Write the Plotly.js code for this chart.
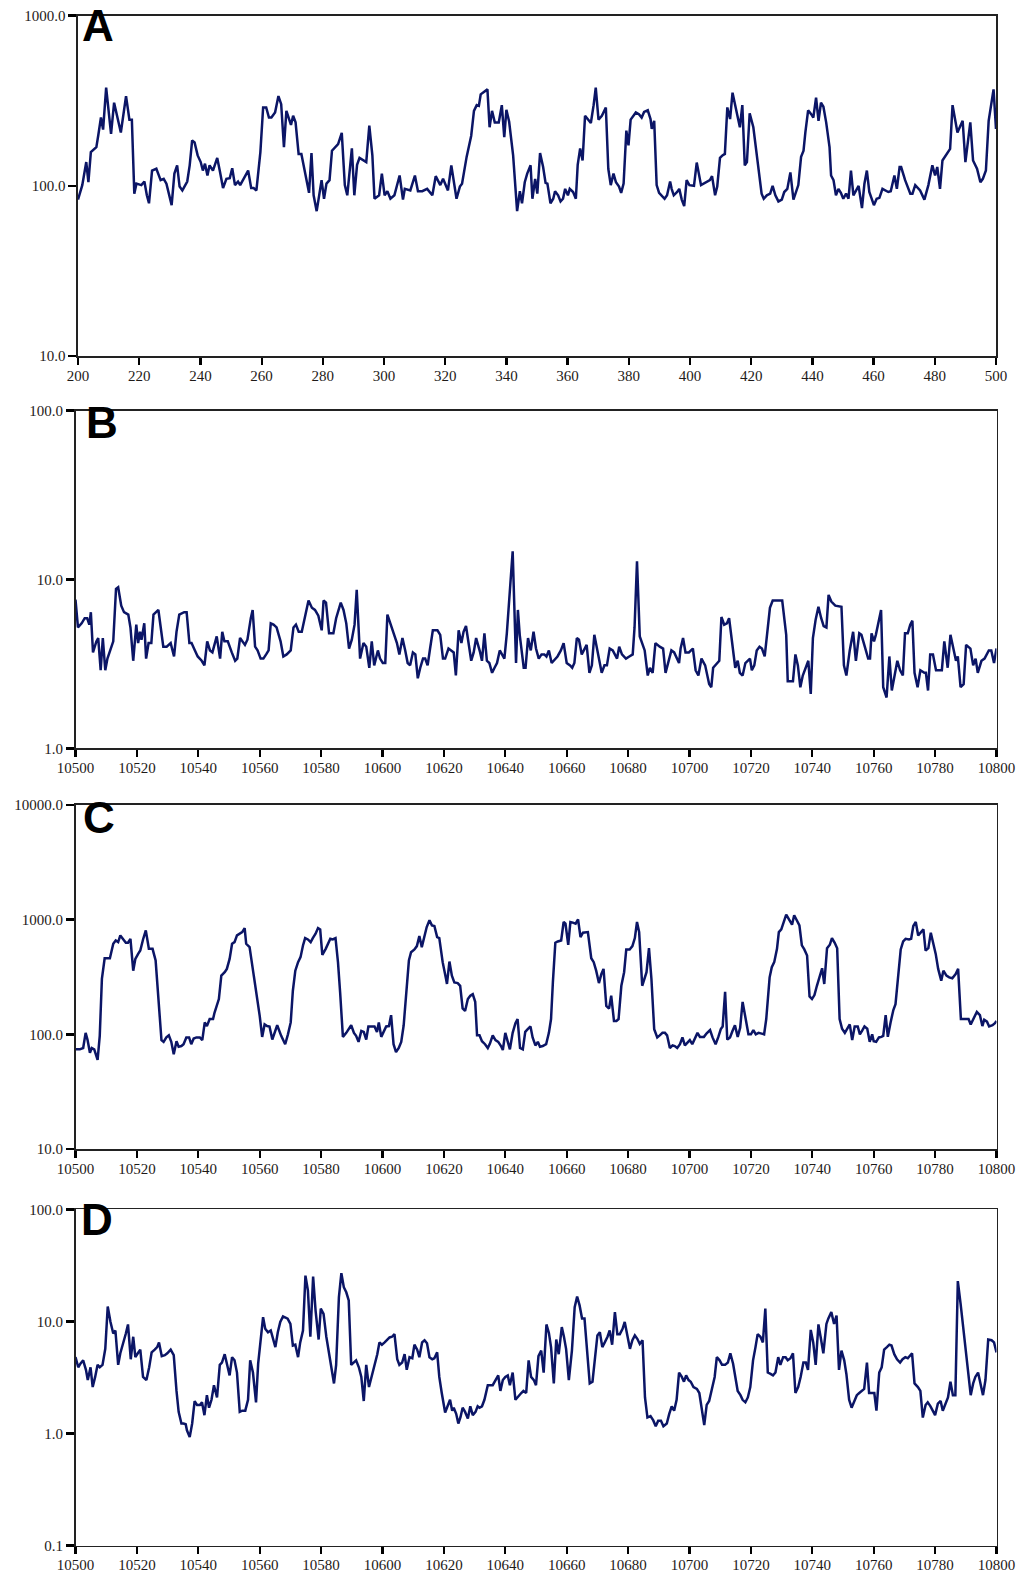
<!DOCTYPE html>
<html>
<head>
<meta charset="utf-8">
<script src="https://cdn.plot.ly/plotly-3.0.1.min.js"></script>
<style>html,body{margin:0;padding:0;background:#fff;}#chart{width:1024px;height:1579px;}</style>
</head>
<body>
<div id="chart"></div>
<script>
// ---------------- DATA ----------------
const panelLabels = ["A", "B", "C", "D"];

const aTickVals = [200, 220, 240, 260, 280, 300, 320, 340, 360, 380, 400, 420, 440, 460, 480, 500];
const bcdTickVals = [10500, 10520, 10540, 10560, 10580, 10600, 10620, 10640, 10660, 10680, 10700, 10720, 10740, 10760, 10780, 10800];
const aYTicks = [10, 100, 1000];
const aYText = ["10.0", "100.0", "1000.0"];
const bYTicks = [1, 10, 100];
const bYText = ["1.0", "10.0", "100.0"];
const cYTicks = [10, 100, 1000, 10000];
const cYText = ["10.0", "100.0", "1000.0", "10000.0"];
const dYTicks = [0.1, 1, 10, 100];
const dYText = ["0.1", "1.0", "10.0", "100.0"];

const aX = [200,201.4,202.7,203.4,204.2,206,206.6,207.5,208.2,209.2,210.8,211.8,214,215.7,216.8,217.6,218.4,219.1,220.7,221.7,
222.5,223.2,224.2,225.6,227,228,228.9,230.6,231.5,232.4,233.2,234.1,235.7,236.5,237.3,238.1,239.1,240.1,240.8,241.5,
242.3,243,244.1,245.5,246.4,247.4,248.5,249.6,250.4,251.3,252.3,253,255.6,256.6,257.4,258.3,259.6,260.5,261.5,262.4,
263.2,264.4,265.5,266.4,267.3,268.1,269.6,270.3,271.1,272.1,273,274.6,275.5,276.3,277,278,279.6,280.4,281.2,282.2,
283,285,286.2,287.2,288,289.5,290.3,291.2,292,294.2,295.2,296.2,296.9,298.4,299.3,300.2,301.1,302.1,303.4,305.1,
306.2,306.8,308.6,310.1,311.1,312.5,314.1,315.8,316.9,318.4,319.3,320.9,322,323.7,324.8,325.5,327,328.5,329.4,330.3,
331,331.6,333.8,334.5,335.3,336.2,337.5,338.5,339.3,340,340.9,342.2,343.5,344.4,345.1,346,346.8,347.9,348.5,349.4,
350.1,351,352,352.8,353.4,354.4,355.3,355.9,356.9,357.7,358.5,359.2,360.1,360.7,361.8,362.7,363.3,364.1,364.9,365.7,
366.8,367.6,368.5,369.2,370.1,371.2,372.5,373.3,374.1,375,375.8,376.8,377.5,378.3,379.2,379.9,380.6,381.4,382.3,383.3,
384.2,385,386.2,387.1,387.5,388.3,389.1,389.9,390.8,391.7,392.5,393.5,394,394.7,395.8,396.5,397.3,398.1,398.9,399.8,
401.3,402.2,403.6,404.6,405.4,406.5,407.2,408.2,408.9,409.8,410.6,411.4,412.2,413.1,413.9,414.8,415.6,416.3,417.1,417.9,
418.6,419.5,420.7,421.6,422.7,423.4,424.1,425.1,426.2,427,427.9,428.9,430,430.8,431.8,432.8,433.8,434.6,435.4,436.3,
437.1,437.7,438.6,439.6,440.3,441.2,442,442.8,443.6,444.5,445.6,446.1,446.9,447.7,448.5,449.3,450.1,451,451.8,452.6,
453.4,455.1,456.2,457,457.8,458.6,460.1,461,461.9,462.9,464.8,465.6,466.8,467.6,468.5,469,470.3,472,472.7,473.6,
475.2,476.6,477.9,479.2,480.1,480.8,481.7,482.5,483.4,484.2,485,485.8,487.4,489.1,490,491.6,492.5,493.8,494.9,495.7,
496.7,497.6,499.2,500];
const aY = [83,101,138,105,158,169,197,252,214,378,202,308,206,337,245,245,90,103,101,106,
88,79,123,126,108,110,103,77,118,132,99,94,106,132,185,180,151,138,123,135,
115,132,123,146,121,97,110,111,127,101,106,101,123,97,97,94,158,289,289,252,
252,270,337,302,169,276,228,258,236,154,154,110,91,156,88,71,108,84,103,108,
161,176,205,101,88,166,88,133,146,138,226,151,84,88,118,88,93,84,88,115,
83,96,94,115,93,93,96,88,114,101,110,94,132,84,99,103,148,197,276,298,
295,345,369,221,276,236,236,298,193,280,238,151,71,93,79,105,118,132,84,110,
90,156,129,104,103,79,84,93,88,81,84,96,88,96,92,84,133,166,141,258,
245,234,298,378,245,258,289,126,101,118,105,99,91,103,211,173,245,256,270,264,
252,272,278,247,216,241,101,91,88,84,88,106,96,88,92,96,83,76,108,101,
100,137,101,103,105,108,114,88,99,146,151,154,289,247,353,295,258,221,298,132,
138,267,221,165,108,90,84,88,90,100,88,81,83,92,96,120,83,92,101,148,
161,206,278,264,252,330,241,308,292,236,169,115,108,88,96,91,84,90,84,123,
88,100,74,103,123,92,77,84,85,96,92,93,115,96,129,129,108,90,90,101,
94,83,101,132,115,129,96,141,150,158,165,298,206,241,138,236,141,126,105,110,
123,241,369,216];

const bX = [10500,10500.8,10502,10503,10503.8,10504.5,10505,10505.7,10506.8,10507.4,
10508.2,10508.9,10509.7,10510.4,10512.3,10513.2,10513.9,10514.9,10515.8,10517.2,
10517.9,10518.8,10519.8,10520.4,10521,10521.5,10522.4,10523,10523.8,10524.7,
10525.4,10527,10528.6,10529.7,10531,10532.1,10532.9,10533.8,10535.4,10536.2,
10537.1,10537.8,10538.9,10539.8,10541.1,10542,10542.9,10543.8,10544.6,10546,
10547.1,10547.8,10548.5,10549.6,10550.9,10552,10552.7,10553.6,10555.2,10556,
10557.1,10557.7,10558.5,10559.3,10560.3,10561.2,10562.1,10562.9,10563.6,10564.5,
10565.5,10566.8,10567.7,10568.8,10570.1,10571,10571.8,10572.7,10573.7,10574.5,
10575,10575.9,10577,10578,10579.1,10580.2,10580.8,10581.6,10582.6,10584,
10584.9,10586.4,10587.3,10588.2,10589.1,10590,10590.9,10591.6,10592.7,10593.8,
10594.7,10595.7,10596.5,10597.3,10598.5,10599.2,10600.1,10600.9,10601.6,10602.7,
10603.6,10604.7,10605.5,10606.5,10607.4,10608.2,10609,10609.9,10610.7,10611.5,
10612.3,10613.2,10613.9,10614.7,10615.5,10616.4,10617.9,10618.8,10619.7,10620.4,
10621.5,10623.2,10623.9,10624.8,10625.7,10626.4,10627.2,10628,10628.9,10629.7,
10630.5,10631.8,10632.4,10633.2,10634,10634.8,10635.7,10636.5,10637.3,10638.2,
10638.9,10639.7,10640.5,
10641.4,10642.4,10643.5,10644.1,10644.7,10645.5,10646,10646.6,10647.4,10648.3,
10649.2,10650,10650.9,10651.8,10652.7,10653.4,10654.2,10655.1,10656.2,10657,
10658.1,10659,10660,10661.1,10661.8,10662.5,10663.3,10664,10664.9,10665.8,
10666.5,10667.4,10668.2,10669,10670.3,10671.4,10672.3,10673.1,10674,10675,
10676.4,10677.1,10678,10679.3,10680.4,10681.5,10682.1,10682.9,10683.8,10684.5,
10685.4,10686.4,10687.1,10688,10688.9,10690.3,10691.4,10692.2,10693.3,10694.1,
10695,10696,10696.6,10697.1,10697.9,10698.7,10699.8,10701.1,10702,10702.9,
10703.9,10705.1,10706.4,10707.1,10707.7,10709.7,10710.4,10711.3,10712.2,10712.9,
10714.9,10715.7,10716.4,10717.3,10718.2,10719.7,10720.3,10721.1,10721.9,10722.8,
10723.6,10724.5,10725.5,10726.2,10727.1,10730.2,10731.5,10732,10733.7,10734.5,
10735.3,10736.1,10736.9,10738,10738.7,10739.5,10740.2,10741.1,10742,10742.9,
10743.7,10744.6,10745.3,10746.2,10747.5,10749.5,10750.3,10751.1,10752.2,10753.3,
10754.2,10755.3,10756,10757.1,10758.2,10758.8,10759.3,10760.1,10760.7,10762.4,
10763.1,10764.2,10765.1,10765.9,10767,10767.7,10768.6,10769.5,10770.2,10771.1,
10771.9,10772.6,10773.3,10774.3,10775.2,10776.5,10777,10777.7,10778.4,10779.3,
10780.3,10782.2,10783,10784.1,10785,10786.1,10786.8,10787.4,10788.3,10789.3,
10790.1,10791.5,10792.4,10793.2,10793.9,10795.1,10796.1,10797.5,10798.3,10799.2,
10800];
const bY = [7.6,5.2,5.5,5.9,5.9,5.4,6.4,3.7,4.3,4.5,
2.9,4.5,2.9,3.4,4.3,8.8,9.0,7.0,6.4,6.2,
5.2,3.3,5.4,4.2,4.9,4.4,5.5,3.4,4.2,4.2,
6.2,6.6,4.0,4.0,4.2,3.5,4.9,6.2,6.4,6.4,
4.2,4.2,3.8,3.5,3.3,3.1,4.3,3.8,3.7,4.6,
3.4,4.9,4.3,4.3,3.7,3.3,3.4,4.5,4.1,4.4,
5.9,6.6,4.0,3.8,3.4,3.4,3.6,3.8,5.5,5.4,
5.2,4.3,3.5,3.6,3.8,5.2,5.4,4.9,4.9,5.8,
6.2,7.5,6.8,6.6,6.1,5.0,7.5,7.3,4.8,4.8,
5.9,7.3,6.6,5.5,3.9,4.4,5.4,8.7,3.4,4.2,
4.0,3.0,4.3,3.1,3.8,3.4,3.2,3.2,6.2,5.4,
4.9,4.2,3.6,4.5,3.8,3.2,3.1,3.7,3.6,2.6,
3.0,3.4,3.4,3.1,3.9,5.0,5.0,4.7,3.4,3.4,
3.9,3.7,2.7,5.0,4.2,4.9,5.3,4.2,3.3,3.7,
4.5,3.7,3.3,4.8,3.3,3.2,2.8,3.0,3.2,3.8,
3.6,3.4,4.8,
8.1,14.7,3.2,6.6,4.7,3.4,3.0,3.0,4.5,3.8,
4.9,3.9,3.4,3.6,3.6,3.5,3.8,3.2,3.4,3.5,
3.8,4.2,3.2,3.1,3.0,3.2,4.5,4.4,3.6,3.9,
4.1,2.8,3.1,4.7,3.6,2.8,3.1,3.1,3.9,3.8,
3.4,4.0,3.6,3.4,3.5,3.6,5.2,12.8,4.6,4.2,
3.8,2.7,3.0,2.8,4.2,4.0,3.9,2.8,3.3,3.8,
3.7,3.4,3.2,3.9,4.5,3.7,3.7,3.9,2.9,2.7,
3.4,3.1,2.4,2.3,3.0,3.3,6.0,5.4,5.5,5.9,
3.0,3.3,2.8,2.7,3.2,3.4,2.9,3.1,3.8,4.0,
3.9,3.5,5.2,6.8,7.5,7.5,4.7,2.5,2.5,3.6,
3.1,2.3,2.7,3.1,3.3,2.1,4.5,5.8,6.9,5.9,
5.3,5.2,8.1,7.4,7.0,6.9,3.1,2.7,3.8,4.9,
3.3,4.8,4.7,4.0,3.4,3.4,4.8,4.3,4.7,6.6,
2.3,2.0,3.5,2.2,2.8,3.3,2.9,2.7,4.8,4.8,
5.4,5.7,2.8,2.3,2.9,2.8,2.8,2.2,3.6,3.6,
2.9,2.9,4.3,3.0,4.7,3.8,3.3,3.5,2.3,2.4,
4.1,3.9,3.1,3.4,2.8,3.3,3.4,3.8,3.8,3.2,
3.9];

const cX = [10500,10501.4,10502.5,10503.3,10503.9,10504.7,10505.3,10506.1,10507.2,10507.9,
10508.6,10509.5,10511.2,10512.3,10513.1,10513.9,10514.6,10515.5,10516.4,10517.1,
10517.9,10518.8,10519.5,10520.4,10521.1,10522,10522.9,10523.9,10525.1,10526.1,
10527.1,10528,10528.7,10529.6,10530.4,10531.2,10532,10532.9,10533.6,10534.5,
10535.2,10536.1,10537,10537.7,10538.5,10539.4,10540.5,10541.3,10542.1,10542.8,
10543.7,10544.8,10545.3,10546.1,10546.7,10547.5,10548.6,10549.3,10550.2,10551,
10551.8,10552.6,10553.7,10554.3,10555.1,10555.6,10556.7,10557.8,10558.9,10560,
10560.8,10561.6,10562.4,10563.2,10564.1,10564.9,10565.7,10567,10568.3,10569.2,
10570.1,10570.8,10571.6,10572.5,10573.3,10574.1,10574.8,10575.7,10576.6,10577.3,
10578.2,10579,10579.7,10580.4,10581.5,10583,10583.8,10584.7,10585.5,10586.2,
10587.1,10588.2,10589,10589.8,10590.7,10591.4,10592.2,10593.1,10593.9,10594.7,
10595.4,10596.5,10597.4,10598.2,10598.8,10599.6,10600.3,10601.2,10602.1,10602.8,
10603.6,10604.4,10605.3,10606.1,10606.9,10607.7,10608.6,10609.3,10610.4,10611.2,
10612,10612.8,10613.7,10614.4,10615.3,10616.1,10616.9,10617.8,10618.5,10619.6,
10620.7,10621,10621.8,10622.6,10623.4,10624.5,10625.3,10626.1,10626.9,10627.8,
10628.6,10629.4,10630.2,10630.8,10631.6,10632.4,10633.4,10634.3,10635,10635.9,
10636.8,10637.7,10638.6,10639.2,10640,10640.8,10641.5,10642.4,10643.3,10644,
10644.8,10645.7,10646.5,10647.3,10648.2,10648.9,10649.8,10650.6,10651.3,10652.2,
10653.3,10654.2,10654.9,10655.5,10656.3,10657.1,10658.2,10659,10659.6,10660.5,
10661.2,10662,10662.9,10663.7,10664.5,10665.3,10666.1,10666.9,10668,10668.8,
10669.6,10670.5,10671.3,10672,10672.9,10673.8,10674.5,10675.4,10676.2,10676.9,
10677.8,10678.7,10679.4,10680.5,10681.4,10682.2,10682.9,10683.6,10684.6,10685.3,
10686,10686.8,10687.6,10688.5,10689.5,10690.3,10691.2,10692,10692.7,10693.6,
10694.5,10695.2,10696,10696.9,10697.7,10698.5,10699.3,10700.1,10700.9,10701.8,
10702.6,10703.4,10704.7,10705.6,10706.7,10707.5,10708.5,10709.4,10710.2,10710.8,
10711.6,10712.3,10713.2,10714,10714.8,10715.7,10716.5,10717.3,10718.1,10719.2,
10720,10720.8,10721.6,10722.5,10723.2,10724.3,10725,10726.1,10726.8,10727.6,
10728.5,10729.1,10729.9,10730.6,10731.5,10732.6,10733.4,10734.1,10735,10735.8,
10736.6,10737.4,10738.3,10739.1,10739.9,10740.7,10741.5,10742.4,10743.2,10743.9,
10744.8,10745.7,10746.4,10747.3,10748.1,10748.9,10749.7,10750.6,10751.3,10752.2,
10753,10753.8,10754.8,10755.5,10756.2,10757,10757.9,10758.7,10759.5,10760,
10760.8,10761.7,10762.5,10763.1,10763.9,10764.6,10765.5,10766.4,10767.1,10768,
10768.8,10769.6,10770.4,10771.5,10772.2,10772.9,10773.7,10774.5,10775.3,10776.2,
10776.9,10777.8,10778.6,10779.4,10780.2,10781,10782,10782.7,10783.7,10784.6,
10785.6,10786.7,10787.5,10788.4,10789.7,10790.9,10791.6,10792.5,10793.6,10794.6,
10795.4,10796,10796.9,10797.6,10798.7,10799.5,10800];
const cY = [74,74,76,103,90,69,76,74,60,97,
304,461,461,616,659,637,729,681,629,629,
681,359,455,503,538,672,806,557,557,440,
177,89,86,94,98,86,67,87,78,79,
82,94,94,82,92,94,94,89,127,118,
136,136,155,177,203,325,348,372,455,616,
637,729,754,779,845,616,576,372,232,145,
95,122,118,117,90,105,120,97,82,100,
127,240,359,426,471,596,691,672,637,691,
754,845,823,493,557,681,672,691,426,232,
95,103,111,120,103,97,86,107,105,90,
117,117,117,105,127,95,105,117,118,147,
82,70,76,86,120,232,440,520,550,588,
719,576,738,862,987,892,880,705,691,426,
304,275,431,325,284,280,265,168,160,203,
217,224,192,98,98,87,82,76,83,98,
89,86,79,73,103,84,74,103,125,136,
76,74,105,111,117,94,80,86,78,79,
82,103,136,284,629,646,659,954,923,604,
954,942,923,1007,705,769,779,779,461,426,
359,280,336,372,177,168,217,131,131,136,
265,348,550,550,588,691,954,779,265,304,
348,564,304,111,94,98,103,103,98,76,
80,79,76,82,94,80,84,89,82,94,
103,95,95,102,109,94,82,95,111,117,
235,90,94,107,120,95,114,192,145,100,
100,109,100,103,102,100,136,314,385,426,
557,779,823,954,1107,987,904,1092,967,892,
596,550,487,214,203,220,265,325,377,275,
564,604,691,629,564,136,112,103,112,122,
89,117,117,100,107,117,112,86,100,87,
86,94,95,97,147,95,127,163,183,359,
550,646,681,672,681,880,954,729,779,823,
538,564,769,637,503,372,294,359,325,314,
308,336,372,136,136,136,122,136,157,147,
118,134,129,117,120,125,131];

const dX = [10500,10500.9,10501.6,10502.5,10503.4,10504,10504.9,10505.6,10506.4,10507.2,
10507.9,10508.8,10509.7,10510.5,10511.4,10512.3,10513,10513.9,10514.6,10515.5,
10516.4,10517.1,10518,10518.8,10519.5,10520.3,10521.1,10522,10523.1,10524,
10524.8,10525.8,10526.6,10527.2,10528.1,10529.1,10529.9,10531,10532,10532.9,
10533.6,10534.5,10535.2,10535.9,10536.3,10537.2,10538,10538.8,10539.6,10540.5,
10541.2,10542,10542.8,10543.5,10544.3,10545.1,10546.1,10547,10547.7,10548.6,
10549.3,10550.2,10551,10551.8,10552.6,10553.5,10554.3,10555.3,10556.2,10556.9,
10557.8,10558.8,10559.5,10560.4,10561.1,10561.8,10562.7,10563.6,10564.3,10565.1,
10565.9,10566.7,10567.6,10568.3,10569.1,10570,10570.8,10571.6,10572.5,10573.2,
10574.1,10574.9,10575.7,10576.5,10577.4,10578.2,10579.2,10579.9,10580.8,10581.7,
10582.5,10583.3,10584.2,10584.9,10585.8,10586.6,10587.4,10588.2,10589,10589.8,
10590.7,10591.4,10592.3,10593.1,10593.9,10594.7,10595.6,10596.3,10597.4,10598.3,
10599,10599.8,10600.7,10601.5,10602.3,10603.1,10603.9,10604.8,10605.5,10606.4,
10607.2,10607.9,10608.8,10609.7,10610.4,10611.3,10612,10612.9,10613.7,10614.5,
10615.3,10616.2,10616.9,10617.8,10618.5,10619.3,10620.4,10621,10622,10622.7,
10623.2,10624,10624.7,10625.4,10626.1,10626.9,10627.8,10628.6,10629.4,10630.3,
10631,10631.6,10632.4,10633.2,10634.3,10635.9,10637,10637.7,10638.4,10639.2,
10640,10640.8,10641.5,10642.4,10643.3,10644.4,10645.2,10645.9,10646.8,10647.6,
10648.4,10649.3,10650,10650.8,10651.7,10652.5,10653.4,10654.2,10654.9,10655.8,
10656.6,10657.4,10658.4,10659.1,10659.8,10660.7,10661.7,10662.6,10663.4,10664.2,
10665,10665.8,10666.6,10667.5,10668.4,10669.1,10670,10670.8,10671.6,10672.4,
10673.3,10674,10674.8,10675.7,10676.5,10677.3,10678.2,10678.9,10679.7,10680.6,
10681.4,10682.2,10683,10683.8,10684.7,10685.5,10686.3,10687.3,10688.2,10689,
10689.8,10690.7,10691.5,10692.6,10693.4,10694.2,10695,10695.8,10696.6,10697.5,
10698.2,10698.9,10699.7,10700.4,10701.3,10702.4,10703.2,10704,10704.8,10705.6,
10706.4,10707.3,10708.2,10708.9,10709.8,10710.6,10711.6,10712.5,10713.3,10714.2,
10714.9,10715.7,10716.6,10717.3,10718.2,10719,10719.8,10720.7,10721.5,10722.2,
10723.1,10723.9,10724.7,10725.5,10726.4,10727.2,10728,10728.9,10729.6,10730.5,
10731.3,10732,10732.9,10733.7,10734.5,10735.4,10736.2,10737.1,10737.9,10738.6,
10739.5,10740.3,10741.1,10742,10742.7,10743.6,10744.6,10745.2,10746.2,10747.1,
10747.9,10748.7,10749.5,10750.4,10751.1,10752,10752.8,10753.6,10754.5,10755.3,
10756.1,10756.9,10757.8,10758.5,10759.3,10760.2,10760.9,10761.8,10762.6,10763.4,
10764.3,10765.1,10765.8,10766.7,10767.6,10768.6,10769.4,10770.3,10771.1,10772.5,
10773.3,10774.4,10775.2,10776,10776.9,10777.6,10778.5,10779.3,10780,10780.9,
10781.8,10782.5,10783.4,10784.2,10785,10785.8,10786.6,10787.4,10788.3,10789.4,
10790.7,10791.6,10792.4,10793.1,10794,10794.9,10795.6,10796.4,10797.3,10798.4,
10799.2,10800];
const dY = [4.8,3.9,4.2,4.5,3.7,3.0,3.9,2.6,3.2,4.1,
3.9,4.1,5.7,13.6,9.9,7.8,8.3,4.1,5.2,6.3,
7.8,9.4,4.6,7.3,4.8,5.2,5.6,3.2,3.0,3.9,
5.3,5.6,5.9,6.5,4.9,5.0,5.2,5.6,5.0,2.4,
1.56,1.23,1.23,1.21,1.07,0.93,1.23,1.95,1.8,1.8,
1.9,1.46,2.2,1.7,2.0,2.7,2.1,4.1,4.3,5.1,
4.2,3.3,4.8,4.5,3.5,1.56,1.6,1.6,2.0,4.5,
3.5,1.9,4.2,7.5,10.9,8.6,8.0,8.3,7.0,5.9,
8.0,9.9,11.1,10.9,10.6,9.5,6.1,6.2,4.8,6.5,
8.3,25.6,18.9,7.3,25.1,12.5,6.9,13.0,11.7,7.3,
5.3,3.7,2.8,4.1,16.5,26.9,20.2,18.2,15.4,4.1,
4.3,4.5,3.9,3.2,1.95,4.1,2.6,3.1,4.1,5.1,
6.5,6.2,6.5,6.9,7.2,7.3,7.7,4.6,4.1,4.3,
5.1,3.7,4.8,4.7,6.2,5.6,4.8,6.5,6.8,6.4,
4.8,4.6,4.7,5.3,3.2,2.3,1.54,1.7,2.0,1.6,
1.7,1.5,1.23,1.4,1.7,1.56,1.36,1.75,1.46,1.56,
1.75,1.7,1.75,2.0,2.7,2.7,3.1,3.3,2.4,3.0,
3.2,3.3,2.7,3.5,2.0,2.2,2.3,2.4,2.3,4.5,
3.2,3.0,2.7,4.9,5.5,3.5,9.4,7.9,5.9,2.8,
6.9,5.1,8.9,7.3,5.7,3.0,5.5,13.4,16.7,13.9,
10.6,10.6,5.5,2.8,2.9,4.2,7.5,8.0,5.9,6.5,
7.3,8.3,6.2,12.1,7.7,7.7,8.6,9.9,7.5,5.7,
6.8,7.5,7.0,6.3,6.8,2.1,1.39,1.43,1.31,1.16,
1.3,1.3,1.16,1.23,1.5,1.75,1.6,2.0,3.5,3.2,
2.9,3.3,3.0,2.9,2.6,2.5,2.3,1.7,1.19,1.8,
1.95,2.5,3.2,4.8,4.5,4.1,4.1,4.3,5.2,4.2,
3.2,2.4,2.2,2.0,1.9,2.1,2.6,4.5,5.9,7.7,
7.3,6.5,13.0,3.5,3.4,3.3,3.5,4.8,4.1,4.8,
4.8,4.5,4.7,5.2,2.3,2.6,3.2,4.3,4.3,3.7,
8.4,6.5,4.1,9.4,7.3,5.2,9.5,10.6,12.1,9.5,
11.3,3.7,5.5,4.5,3.4,2.0,1.7,1.95,2.2,2.3,
2.4,2.5,4.3,2.3,2.3,2.3,1.6,3.5,3.9,5.6,
5.9,6.2,6.1,5.1,4.6,4.3,4.6,4.8,4.7,5.2,
2.8,2.6,2.4,1.39,1.8,1.9,1.75,1.56,1.46,1.85,
1.95,1.6,1.85,2.1,2.9,2.2,2.2,22.9,14.4,7.5,
3.7,2.2,2.8,3.2,3.5,2.6,2.2,3.0,6.9,6.8,
6.5,5.3];

// ---------------- LAYOUT (pixel geometry of the figure) ----------------
const W = 1024, H = 1579;
const lineColor = "#0b1566";
const frames = [ // left, right, top, bottom in px
  {l: 78, r: 996, t: 15.7, b: 356},
  {l: 75.5, r: 996.5, t: 410.7, b: 748.3},
  {l: 75.5, r: 996.5, t: 805, b: 1149},
  {l: 75.5, r: 996.5, t: 1209.3, b: 1545.7}
];
const series = [[aX, aY], [bX, bY], [cX, cY], [dX, dY]];
const xRanges = [[200, 500], [10500, 10800], [10500, 10800], [10500, 10800]];
const yRanges = [[1, 3], [0, 2], [1, 4], [-1, 2]];
const xTicks = [aTickVals, bcdTickVals, bcdTickVals, bcdTickVals];
const yTicks = [[aYTicks, aYText], [bYTicks, bYText], [cYTicks, cYText], [dYTicks, dYText]];
const letterPos = [{x: 80, y: 26}, {x: 84, y: 423}, {x: 81, y: 817}, {x: 79, y: 1219}];

const tickFont = {family: "Liberation Serif, Times New Roman, serif", size: 15, color: "#1e1a18"};
const traces = [];
const layout = {
  width: W, height: H,
  margin: {l: 0, r: 0, t: 0, b: 0},
  paper_bgcolor: "#ffffff", plot_bgcolor: "#ffffff",
  showlegend: false,
  annotations: []
};

for (let i = 0; i < 4; i++) {
  const f = frames[i];
  const sx = i === 0 ? "" : String(i + 1);
  traces.push({
    x: series[i][0], y: series[i][1],
    xaxis: "x" + sx, yaxis: "y" + sx,
    type: "scatter", mode: "lines",
    line: {color: lineColor, width: 2.5},
    hoverinfo: "x+y"
  });
  layout["xaxis" + sx] = {
    domain: [f.l / W, f.r / W],
    anchor: "y" + sx,
    range: xRanges[i],
    tickmode: "array", tickvals: xTicks[i], ticktext: xTicks[i].map(String),
    ticks: "outside", ticklen: 7, tickwidth: 2.2, tickcolor: "#000",
    ticklabelstandoff: -2,
    showline: true, linecolor: "#222", linewidth: 1.6, mirror: true,
    showgrid: false, zeroline: false,
    tickfont: tickFont
  };
  layout["yaxis" + sx] = {
    domain: [1 - f.b / H, 1 - f.t / H],
    anchor: "x" + sx,
    type: "log",
    range: yRanges[i],
    tickmode: "array", tickvals: yTicks[i][0], ticktext: yTicks[i][1],
    ticks: "outside", ticklen: 8, tickwidth: 2.6, tickcolor: "#000",
    showline: true, linecolor: "#222", linewidth: 1.6, mirror: true,
    showgrid: false, zeroline: false,
    tickfont: tickFont
  };
  layout.annotations.push({
    text: "<b>" + panelLabels[i] + "</b>",
    xref: "paper", yref: "paper",
    x: letterPos[i].x / W, y: 1 - letterPos[i].y / H,
    xanchor: "left", yanchor: "middle",
    showarrow: false,
    font: {family: "Liberation Sans, Arial, sans-serif", size: 44, color: "#000"}
  });
}

Plotly.newPlot("chart", traces, layout, {staticPlot: true, displayModeBar: false});
</script>
</body>
</html>
